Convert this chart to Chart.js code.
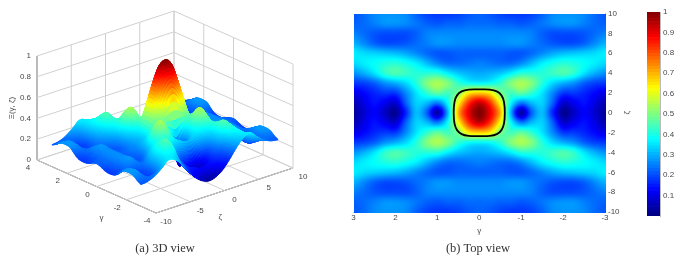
<!DOCTYPE html>
<html>
<head>
<meta charset="utf-8">
<style>
  html, body { margin: 0; padding: 0; background: #fff; }
  #page { position: relative; width: 692px; height: 262px; overflow: hidden; filter: blur(0.35px); }
  canvas { position: absolute; top: 0; }
  .caption { position: absolute; top: 241px; font: 12.5px "Liberation Serif", serif; color: #333; transform: translateX(-50%); white-space: nowrap; }
</style>
</head>
<body>
<div id="page">
  <canvas id="surface3d" width="340" height="240" style="left:0"></canvas>
  <canvas id="topView" width="300" height="240" style="left:340px"></canvas>
  <canvas id="colorBar" width="52" height="240" style="left:640px"></canvas>
  <div class="caption" style="left:165px">(a) 3D view</div>
  <div class="caption" style="left:478px">(b) Top view</div>
</div>
<script src="https://cdn.jsdelivr.net/npm/chart.js@4/dist/chart.umd.min.js"></script>
<script>
// --- DATA ---
// one quadrant of the surface, the picture is mirrored around gamma=0 and zeta=0
const gammaSteps = [0, 0.25, 0.5, 0.75, 1, 1.25, 1.5, 1.75, 2, 2.25, 2.5, 2.75, 3];
const zetaSteps = [0, 1, 2, 3, 4, 5, 6, 7, 8, 9, 10];
const xiRows = [
  [1.00, 0.90, 0.70, 0.30, 0.04, 0.22, 0.31, 0.16, 0.02, 0.07, 0.12, 0.08, 0.03],
  [0.93, 0.83, 0.62, 0.38, 0.25, 0.31, 0.33, 0.22, 0.08, 0.11, 0.14, 0.10, 0.05],
  [0.67, 0.64, 0.50, 0.44, 0.47, 0.42, 0.35, 0.26, 0.18, 0.18, 0.16, 0.13, 0.10],
  [0.37, 0.38, 0.42, 0.50, 0.54, 0.50, 0.41, 0.34, 0.30, 0.27, 0.22, 0.19, 0.18],
  [0.29, 0.30, 0.32, 0.36, 0.41, 0.41, 0.41, 0.43, 0.45, 0.42, 0.35, 0.30, 0.27],
  [0.25, 0.24, 0.23, 0.23, 0.26, 0.31, 0.36, 0.39, 0.41, 0.40, 0.38, 0.36, 0.34],
  [0.22, 0.22, 0.22, 0.21, 0.21, 0.23, 0.26, 0.29, 0.31, 0.32, 0.33, 0.34, 0.36],
  [0.26, 0.26, 0.26, 0.27, 0.27, 0.25, 0.23, 0.21, 0.20, 0.20, 0.22, 0.26, 0.30],
  [0.26, 0.26, 0.26, 0.26, 0.26, 0.25, 0.22, 0.20, 0.20, 0.20, 0.21, 0.23, 0.25],
  [0.23, 0.23, 0.22, 0.22, 0.21, 0.22, 0.24, 0.26, 0.27, 0.27, 0.25, 0.23, 0.22],
  [0.22, 0.21, 0.19, 0.18, 0.18, 0.19, 0.22, 0.26, 0.27, 0.27, 0.26, 0.23, 0.21]
];
// black contour of the top view
const contourGamma = [0, 0.25, 0.42, 0.53, 0.59, 0.61, 0.59, 0.53, 0.42, 0.25, 0, -0.25, -0.42, -0.53, -0.59, -0.61, -0.59, -0.53, -0.42, -0.25, 0];
const contourZeta = [2.35, 2.33, 2.15, 1.75, 1.1, 0, -1.1, -1.75, -2.15, -2.33, -2.35, -2.33, -2.15, -1.75, -1.1, 0, 1.1, 1.75, 2.15, 2.33, 2.35];
// tick labels
const gammaTicks3d = [4, 2, 0, -2, -4];
const zetaTicks3d = [-10, -5, 0, 5, 10];
const xiTicks3d = [0, 0.2, 0.4, 0.6, 0.8, 1];
const colorLevels = 64;

const AXIS_GREY = '#484848';
const GRID_GREY = '#d0d0d0';
const SANS = '"Liberation Sans", sans-serif';

// --- helpers ---
function jet(v) {
  const ramp = c => Math.max(0, Math.min(1, c));
  const r = ramp(Math.min(4 * v - 1.5, -4 * v + 4.5));
  const g = ramp(Math.min(4 * v - 0.5, -4 * v + 3.5));
  const b = ramp(Math.min(4 * v + 0.5, -4 * v + 2.5));
  return [Math.round(r * 255), Math.round(g * 255), Math.round(b * 255)];
}
function jetCss(v) { return 'rgb(' + jet(v).join(',') + ')'; }

function gridAt(i, j) {
  const col = Math.min(Math.abs(i), gammaSteps.length - 1);
  const row = Math.min(Math.abs(j), zetaSteps.length - 1);
  return xiRows[row][col];
}
function cubic(a, b, c, d, t) {
  return b + 0.5 * t * (c - a + t * (2 * a - 5 * b + 4 * c - d + t * (3 * (b - c) + d - a)));
}
// shading of the surface between the read values
function shade(gamma, zeta) {
  const u = Math.abs(gamma) / 0.25, w = Math.abs(zeta);
  const i = Math.min(Math.floor(u), gammaSteps.length - 2), j = Math.min(Math.floor(w), zetaSteps.length - 2);
  const col = [];
  for (let m = -1; m <= 2; m++) {
    col.push(cubic(gridAt(i - 1, j + m), gridAt(i, j + m), gridAt(i + 1, j + m), gridAt(i + 2, j + m), u - i));
  }
  return Math.max(0, Math.min(1, cubic(col[0], col[1], col[2], col[3], w - j)));
}

// --- 3D VIEW ---
// orthographic view: corners of the box in page pixels
function project(gamma, zeta, xi) {
  const a = (gamma + 4) / 8, b = (zeta + 10) / 20;
  return { x: 156 - 119 * a + 137 * b, y: 213 - 53 * a - 45 * b - 104 * xi };
}
const lines3d = [];
function addLine(from, to, color) {
  lines3d.push({
    type: 'scatter', showLine: true, borderColor: color, borderWidth: 1,
    pointRadius: 0, data: [project(...from), project(...to)]
  });
}
xiTicks3d.forEach(t => {
  addLine([4, -10, t], [4, 10, t], GRID_GREY);
  addLine([4, 10, t], [-4, 10, t], GRID_GREY);
});
zetaTicks3d.forEach(t => {
  addLine([-4, t, 0], [4, t, 0], GRID_GREY);
  addLine([4, t, 0], [4, t, 1], GRID_GREY);
});
gammaTicks3d.forEach(t => {
  addLine([t, -10, 0], [t, 10, 0], GRID_GREY);
  addLine([t, 10, 0], [t, 10, 1], GRID_GREY);
});
addLine([4, -10, 0], [4, -10, 1], AXIS_GREY);
addLine([4, -10, 0], [-4, -10, 0], AXIS_GREY);
addLine([-4, -10, 0], [-4, 10, 0], AXIS_GREY);

const surfacePoints = [];
for (let j = -10; j <= 10; j++) {
  for (let i = -12; i <= 12; i++) {
    surfacePoints.push(project(i * 0.25, j, gridAt(i, j)));
  }
}

const surfacePlugin = {
  id: 'surfacePlugin',
  afterDatasetsDraw(chart) {
    const { ctx, scales } = chart;
    const px = p => [scales.x.getPixelForValue(p.x), scales.y.getPixelForValue(p.y)];
    const ng = 120, nz = 160;
    ctx.save();
    ctx.lineWidth = 1;
    // painter: far corner first
    for (let i = 0; i < ng; i++) {
      const g0 = 3 - 6 * i / ng, g1 = 3 - 6 * (i + 1) / ng;
      for (let j = 0; j < nz; j++) {
        const z0 = 10 - 20 * j / nz, z1 = 10 - 20 * (j + 1) / nz;
        const v00 = shade(g0, z0), v01 = shade(g0, z1), v10 = shade(g1, z0), v11 = shade(g1, z1);
        const a = px(project(g0, z0, v00)), b = px(project(g0, z1, v01));
        const c = px(project(g1, z1, v11)), d = px(project(g1, z0, v10));
        const col = jetCss((v00 + v01 + v10 + v11) / 4);
        ctx.fillStyle = col;
        ctx.strokeStyle = col;
        ctx.beginPath();
        ctx.moveTo(a[0], a[1]); ctx.lineTo(b[0], b[1]); ctx.lineTo(c[0], c[1]); ctx.lineTo(d[0], d[1]);
        ctx.closePath();
        ctx.fill();
        ctx.stroke();
      }
    }
    // tick labels
    ctx.fillStyle = AXIS_GREY;
    ctx.font = '8px ' + SANS;
    ctx.textBaseline = 'middle';
    const label = (text, p, dx, dy, align) => {
      const q = px(p);
      ctx.textAlign = align;
      ctx.fillText(text, q[0] + dx, q[1] + dy);
    };
    xiTicks3d.forEach(t => label(String(t), project(4, -10, t), -6, 0, 'right'));
    gammaTicks3d.forEach(t => label(String(t), project(t, -10, 0), -9, 8, 'center'));
    zetaTicks3d.forEach(t => label(String(t), project(-4, t, 0), 10, 9, 'center'));
    label('γ', project(0, -10, 0), 5, 31, 'center');
    label('ζ', project(-4, -2.5, 0), 13, 21, 'center');
    const mid = px(project(4, -10, 0.5));
    ctx.save();
    ctx.translate(mid[0] - 25, mid[1]);
    ctx.rotate(-Math.PI / 2);
    ctx.textAlign = 'center';
    ctx.fillText('Ξ(γ, ζ)', 0, 0);
    ctx.restore();
    ctx.restore();
  }
};

new Chart(document.getElementById('surface3d'), {
  type: 'scatter',
  data: {
    datasets: [...lines3d, { label: 'surface', data: surfacePoints, pointRadius: 0, showLine: false }]
  },
  options: {
    responsive: false, animation: false, devicePixelRatio: 1,
    layout: { padding: 0 },
    plugins: { legend: { display: false }, tooltip: { enabled: false } },
    scales: {
      x: { type: 'linear', min: 0, max: 340, display: false },
      y: { type: 'linear', min: 0, max: 240, reverse: true, display: false }
    }
  },
  plugins: [surfacePlugin]
});

// --- TOP VIEW ---
const heatPoints = [];
for (let j = -10; j <= 10; j++) {
  for (let i = -12; i <= 12; i++) {
    heatPoints.push({ x: i * 0.25, y: j, v: gridAt(i, j) });
  }
}
const contourPoints = contourGamma.map((g, i) => ({ x: g, y: contourZeta[i] }));

const heatPlugin = {
  id: 'heatPlugin',
  beforeDatasetsDraw(chart) {
    const { ctx, chartArea: area, scales } = chart;
    const w = Math.round(area.right - area.left), h = Math.round(area.bottom - area.top);
    const off = document.createElement('canvas');
    off.width = w; off.height = h;
    const octx = off.getContext('2d');
    const img = octx.createImageData(w, h);
    for (let py = 0; py < h; py++) {
      const zeta = scales.y.getValueForPixel(area.top + py + 0.5);
      for (let px = 0; px < w; px++) {
        const gamma = scales.x.getValueForPixel(area.left + px + 0.5);
        const c = jet(shade(gamma, zeta));
        const k = (py * w + px) * 4;
        img.data[k] = c[0]; img.data[k + 1] = c[1]; img.data[k + 2] = c[2]; img.data[k + 3] = 255;
      }
    }
    octx.putImageData(img, 0, 0);
    ctx.drawImage(off, area.left, area.top);
  },
  afterDraw(chart) {
    // zeta title reads bottom-up, chart.js would turn it the other way on a right axis
    const { ctx, scales } = chart;
    ctx.save();
    ctx.translate(scales.y.right - 6, scales.y.getPixelForValue(0));
    ctx.rotate(-Math.PI / 2);
    ctx.fillStyle = AXIS_GREY;
    ctx.font = '8px ' + SANS;
    ctx.textAlign = 'center';
    ctx.textBaseline = 'middle';
    ctx.fillText('ζ', 0, 0);
    ctx.restore();
  }
};

const tickFont = { family: '"Liberation Sans"', size: 8 };
new Chart(document.getElementById('topView'), {
  type: 'scatter',
  data: {
    datasets: [
      { label: 'xi', data: heatPoints, pointRadius: 0, showLine: false },
      { label: 'contour', data: contourPoints, showLine: true, borderColor: '#000', borderWidth: 1.8, pointRadius: 0, tension: 0.35 }
    ]
  },
  options: {
    responsive: false, animation: false, devicePixelRatio: 1,
    layout: { padding: { left: 13.5, top: 13.5, right: 7, bottom: 4 } },
    plugins: { legend: { display: false }, tooltip: { enabled: false } },
    scales: {
      x: {
        type: 'linear', min: -3, max: 3, reverse: true,
        ticks: { stepSize: 1, color: AXIS_GREY, font: tickFont, maxRotation: 0, padding: 1 },
        grid: { display: false, drawTicks: false }, border: { color: '#c4ccd8' },
        title: { display: true, text: 'γ', color: AXIS_GREY, font: tickFont, padding: 0 },
        afterFit(s) { s.height = 24; }
      },
      y: {
        type: 'linear', min: -10, max: 10, position: 'right',
        ticks: { stepSize: 2, color: AXIS_GREY, font: tickFont, padding: 3 },
        grid: { display: false, drawTicks: false }, border: { color: '#c4ccd8' },
        afterFit(s) { s.width = 28; }
      }
    }
  },
  plugins: [heatPlugin]
});

// --- COLOUR BAR ---
const barSets = [];
for (let i = 0; i < colorLevels; i++) {
  barSets.push({
    data: [[i / colorLevels, (i + 1) / colorLevels]],
    backgroundColor: jetCss((i + 0.5) / colorLevels),
    borderWidth: 0, barPercentage: 1, categoryPercentage: 1, grouped: false
  });
}
new Chart(document.getElementById('colorBar'), {
  type: 'bar',
  data: { labels: [''], datasets: barSets },
  options: {
    responsive: false, animation: false, devicePixelRatio: 1,
    layout: { padding: { left: 7, top: 12, right: 0, bottom: 0 } },
    plugins: { legend: { display: false }, tooltip: { enabled: false } },
    scales: {
      x: { display: false, afterFit(s) { s.height = 24; } },
      y: {
        min: 0, max: 1, position: 'right',
        ticks: {
          stepSize: 0.1, color: AXIS_GREY, font: tickFont, padding: 3,
          callback: v => (v === 0 ? '' : String(Math.round(v * 10) / 10))
        },
        grid: { display: false, drawTicks: false }, border: { color: '#bbb' },
        afterFit(s) { s.width = 32; }
      }
    }
  }
});
</script>
</body>
</html>
